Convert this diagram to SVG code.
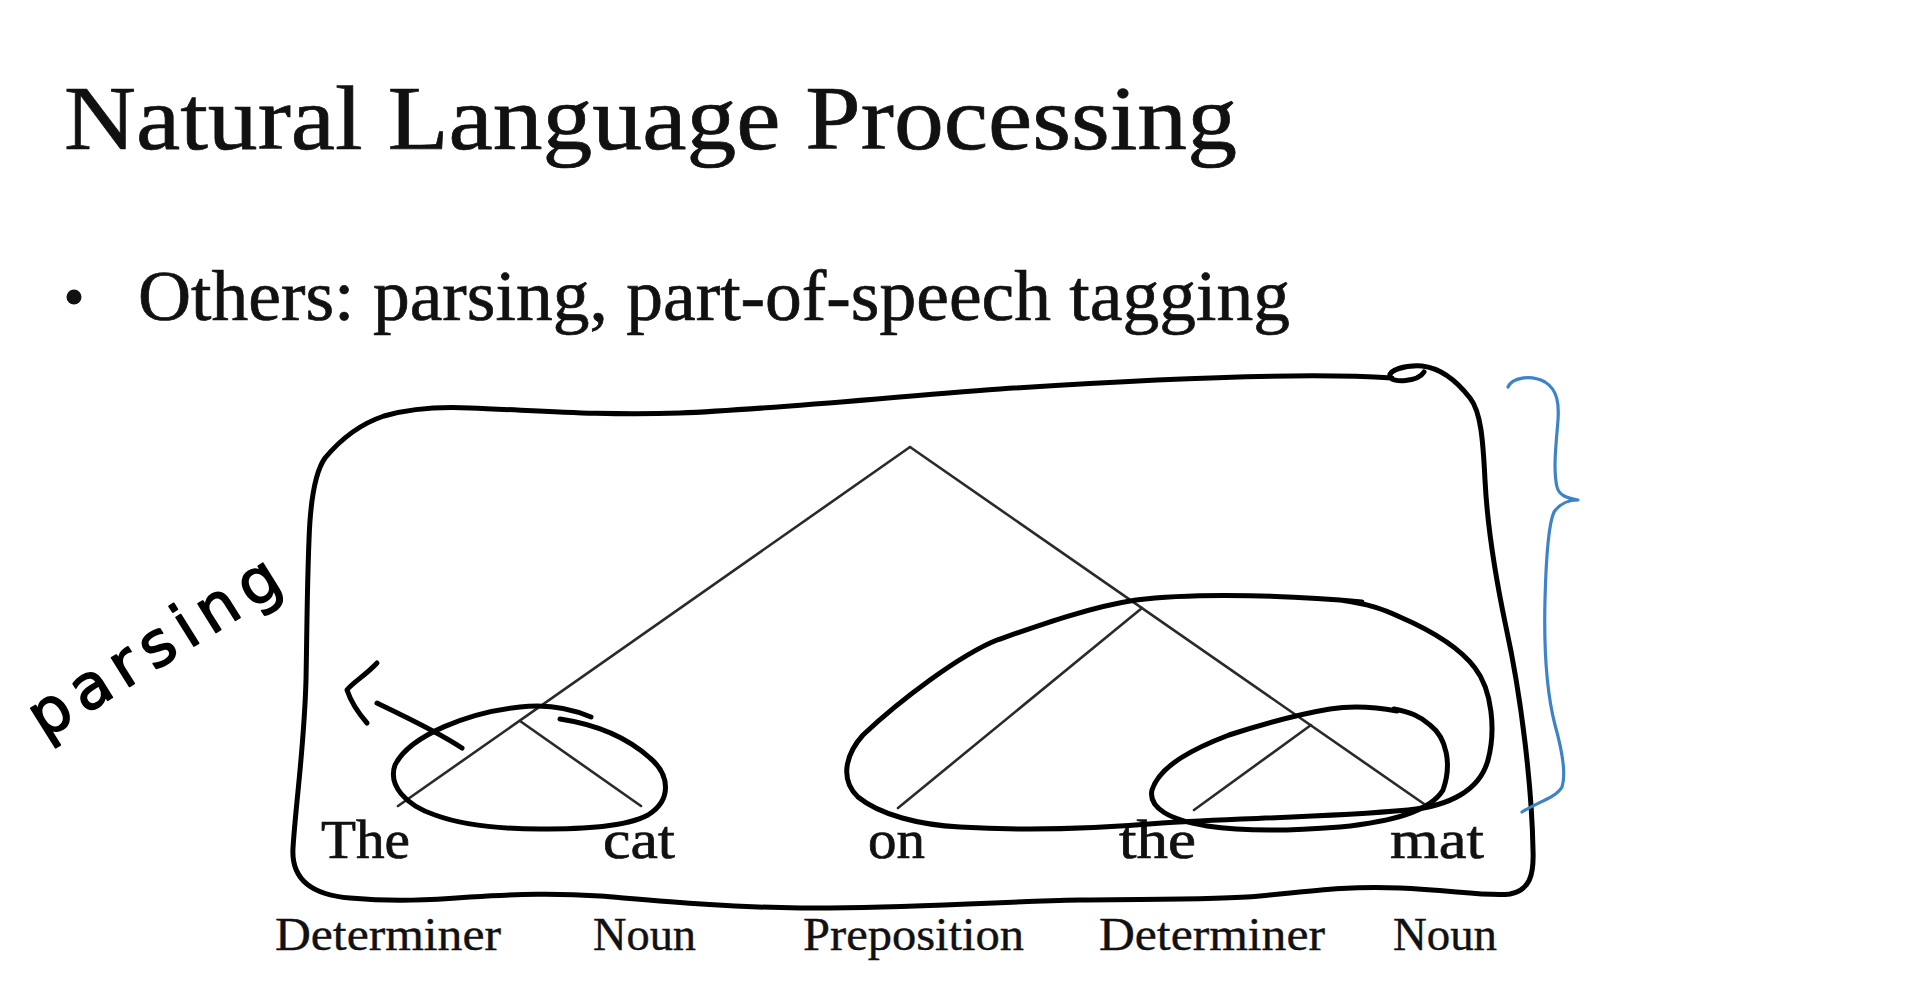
<svg xmlns="http://www.w3.org/2000/svg" width="1920" height="982" viewBox="0 0 1920 982">
<style>
.serif{font-family:"Liberation Serif","Times New Roman",serif;fill:#111;stroke:#111;stroke-width:0.7}
.word{font-size:54px}
.pos{font-size:46px;stroke-width:0.4}
.ink{fill:none;stroke:#000;stroke-width:5;stroke-linecap:round;stroke-linejoin:round}
.tree{stroke:#2a2a2a;stroke-width:2.6;fill:none;stroke-linecap:round}
.blue{fill:none;stroke:#3d84c6;stroke-width:3.2;stroke-linecap:round;stroke-linejoin:round}
.hand{font-family:"DejaVu Sans",sans-serif;font-size:62px;fill:#000;stroke:#000;stroke-width:1.6;stroke-linejoin:round}
</style>
<rect width="1920" height="982" fill="#fff"/>
<g id="title"><text class="serif" x="64" y="149" font-size="92" stroke-width="1.1" textLength="1173" lengthAdjust="spacingAndGlyphs">Natural Language Processing</text></g>
<g id="bullet"><circle cx="74" cy="297" r="7.5" fill="#111"/><text class="serif" x="138" y="320" font-size="72" textLength="1152" lengthAdjust="spacingAndGlyphs">Others: parsing, part-of-speech tagging</text></g>
<g id="connectors">
<line class="tree" x1="910" y1="447" x2="398" y2="806"/>
<line class="tree" x1="520" y1="721" x2="641" y2="806"/>
<line class="tree" x1="910" y1="447" x2="1427" y2="806"/>
<line class="tree" x1="1142" y1="608" x2="898" y2="808"/>
<line class="tree" x1="1311" y1="725" x2="1194" y2="810"/>
</g>
<g id="word-The"><text class="serif word" x="321" y="858" textLength="89" lengthAdjust="spacingAndGlyphs">The</text></g>
<g id="word-cat"><text class="serif word" x="603" y="858" textLength="72" lengthAdjust="spacingAndGlyphs">cat</text></g>
<g id="word-on"><text class="serif word" x="868" y="858" textLength="57" lengthAdjust="spacingAndGlyphs">on</text></g>
<g id="word-the"><text class="serif word" x="1119" y="858" textLength="77" lengthAdjust="spacingAndGlyphs">the</text></g>
<g id="word-mat"><text class="serif word" x="1390" y="858" textLength="94" lengthAdjust="spacingAndGlyphs">mat</text></g>
<g id="pos-1"><text class="serif pos" x="275" y="950" textLength="226" lengthAdjust="spacingAndGlyphs">Determiner</text></g>
<g id="pos-2"><text class="serif pos" x="593" y="950" textLength="103" lengthAdjust="spacingAndGlyphs">Noun</text></g>
<g id="pos-3"><text class="serif pos" x="803" y="950" textLength="221" lengthAdjust="spacingAndGlyphs">Preposition</text></g>
<g id="pos-4"><text class="serif pos" x="1099" y="950" textLength="226" lengthAdjust="spacingAndGlyphs">Determiner</text></g>
<g id="pos-5"><text class="serif pos" x="1393" y="950" textLength="104" lengthAdjust="spacingAndGlyphs">Noun</text></g>
<g id="annotations">
<path class="ink" d="M 1392,378 C 1300,372 1150,379 1000,389 C 880,398 760,410 680,413 C 600,416 530,410 470,408 C 430,406 405,410 384,416 C 360,424 340,440 325,458 C 313,475 310,510 309,540 C 307,590 307,630 306,680 C 304,750 296,800 293,848 C 291,880 312,895 350,898 C 395,902 430,900 470,897 C 520,894 555,893 600,896 C 660,901 720,907 800,908 C 900,909 980,902 1080,900 C 1160,899 1220,900 1260,896 C 1320,890 1350,886 1400,888 C 1450,890 1490,897 1510,894 C 1530,890 1534,875 1533,850 C 1532,790 1522,700 1506,627 C 1494,570 1487,520 1485,480 C 1483,440 1481,412 1470,398 C 1456,380 1440,368 1422,366 C 1405,365 1388,370 1390,377 C 1392,383 1418,382 1424,372"/>
<path class="ink" d="M 591,717 C 570,708 545,704 520,707 C 470,712 410,735 395,765 C 388,785 405,805 435,815 C 465,826 500,829 540,829 C 585,829 625,827 648,815 C 672,800 670,775 650,758 C 630,740 600,725 560,719"/>
<path class="ink" d="M 377,703 C 400,714 440,733 462,748"/>
<path class="ink" d="M 377,663 C 366,675 352,683 347,690 C 352,705 360,715 367,723"/>
<path class="ink" d="M 1362,602 C 1300,596 1200,592 1136,600 C 1090,607 1040,625 997,640 C 960,655 900,700 863,735 C 845,755 840,780 858,797 C 880,815 920,825 960,827 C 1010,830 1080,830 1162,823 C 1230,818 1320,818 1408,810 C 1450,806 1480,790 1488,760 C 1496,730 1492,690 1475,668 C 1460,648 1430,630 1400,617 C 1385,610 1370,604 1340,600"/>
<path class="ink" d="M 1397,711 C 1375,707 1350,706 1330,709 C 1300,714 1260,725 1229,735 C 1195,748 1160,765 1152,790 C 1148,808 1170,820 1207,826 C 1240,831 1290,831 1340,827 C 1390,822 1430,812 1443,790 C 1452,765 1447,738 1430,725 C 1420,716 1410,712 1394,709"/>
<path class="blue" d="M 1508,387 C 1512,378 1530,374 1545,382 C 1558,390 1559,405 1558,420 C 1556,445 1553,470 1557,487 C 1559,495 1566,498 1578,500 C 1568,500 1560,503 1554,512 C 1548,525 1546,560 1545,600 C 1544,640 1546,690 1555,725 C 1562,750 1566,775 1562,787 C 1556,798 1535,803 1522,812"/>
<text class="hand" transform="translate(44,740) rotate(-32)" x="0" y="0" textLength="285" lengthAdjust="spacing">parsing</text>
</g>
</svg>
